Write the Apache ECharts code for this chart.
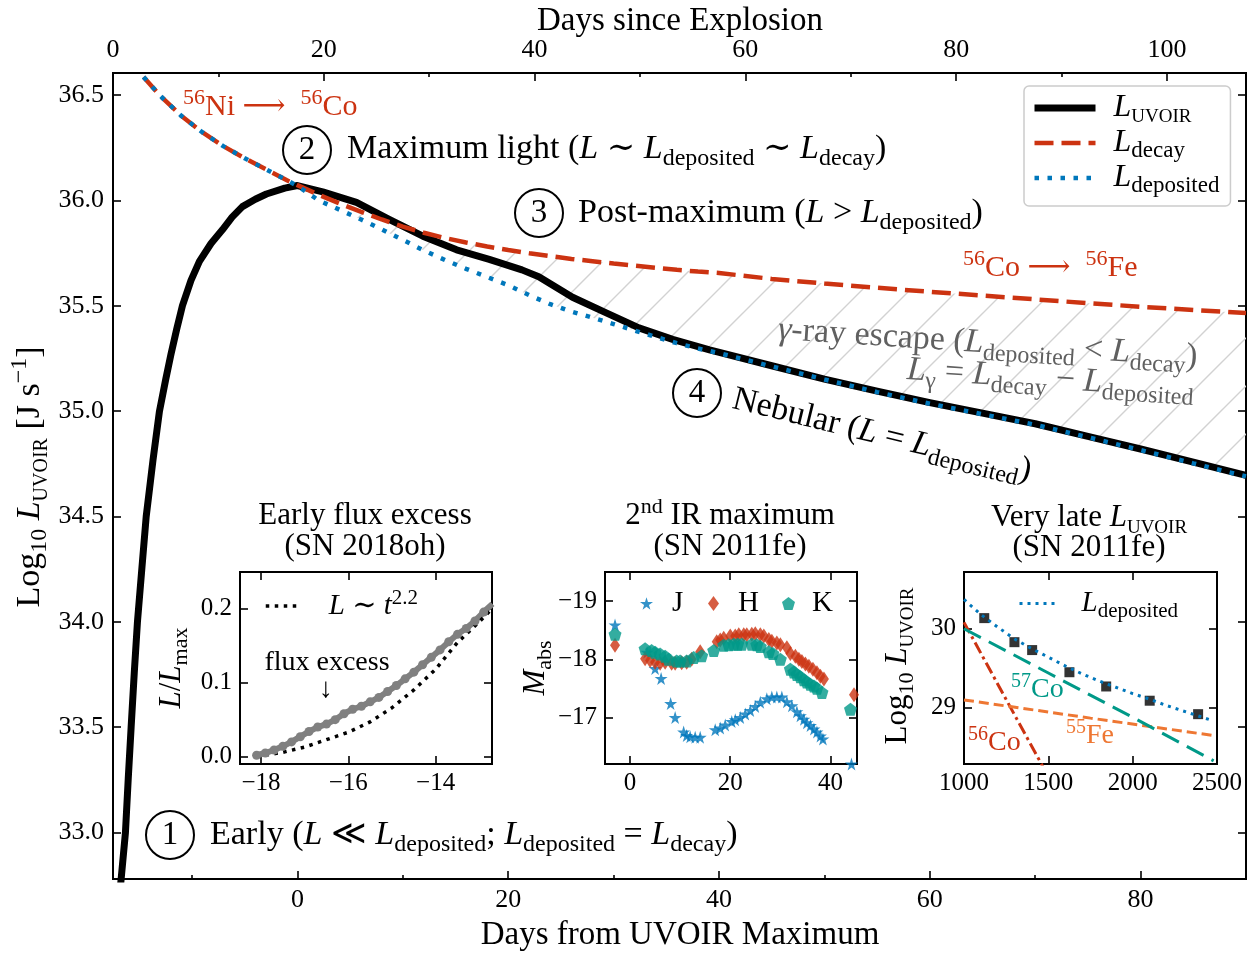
<!DOCTYPE html>
<html>
<head>
<meta charset="utf-8">
<script src="https://cdn.jsdelivr.net/npm/echarts@6/dist/echarts.min.js"></script>
<style>
  html, body { margin: 0; padding: 0; background: #fff; }
  #chart { width: 1252px; height: 953px; }
</style>
</head>
<body>
<div id="chart"></div>
<script>
// ---- main panel: days from UVOIR maximum vs log10 luminosity ----
const modelDays = [-14.6, -13, -11, -9, -7, -5, -3, -1, 0, 2, 4, 6, 8, 10, 12, 14, 16, 18, 20,
  22, 24, 26, 28, 30, 32, 34, 36, 38, 40, 45, 50, 55, 60, 65, 70, 75, 80, 85, 90];
const decayLog = [36.585, 36.495, 36.40, 36.322, 36.256, 36.199, 36.147, 36.095, 36.072, 36.027, 35.985,
  35.946, 35.909, 35.875, 35.846, 35.821, 35.80, 35.781, 35.764, 35.749, 35.735, 35.722, 35.711, 35.70,
  35.69, 35.68, 35.67, 35.662, 35.655, 35.627, 35.605, 35.585, 35.566, 35.548, 35.53, 35.512, 35.495,
  35.48, 35.465];
const depositedLog = [36.585, 36.495, 36.40, 36.322, 36.256, 36.199, 36.147, 36.095, 36.068, 36.0, 35.955,
  35.91, 35.862, 35.812, 35.762, 35.717, 35.675, 35.636, 35.597, 35.55, 35.507, 35.472, 35.443, 35.413,
  35.382, 35.352, 35.322, 35.297, 35.275, 35.212, 35.15, 35.09, 35.035, 34.985, 34.935, 34.876, 34.815,
  34.752, 34.69];
const uvoirDays = [-16.95, -16.32, -16.05, -15.78, -15.48, -15.18, -14.75, -14.35, -13.7, -13.09, -12.5,
  -12.0, -11.45, -10.91, -10.1, -9.3, -8.2, -7.12, -6.2, -5.22, -4.0, -2.94, -1.2, 0, 2.4, 5.6, 8.7,
  11.9, 15.1, 18.2, 21.3, 22.9, 26.1, 29.3, 32.4, 35.6, 39.1, 45, 50, 55, 60, 65, 70, 75, 80, 85, 90];
const uvoirLog = [32.66, 33.0, 33.26, 33.5, 33.76, 34.0, 34.26, 34.5, 34.77, 35.0, 35.15, 35.27, 35.39,
  35.5, 35.62, 35.71, 35.795, 35.86, 35.92, 35.97, 36.005, 36.03, 36.058, 36.07, 36.04, 35.99, 35.91,
  35.83, 35.765, 35.72, 35.67, 35.637, 35.54, 35.466, 35.395, 35.34, 35.29, 35.215, 35.152, 35.095,
  35.04, 34.99, 34.94, 34.88, 34.82, 34.758, 34.695];

// ---- inset 1: early flux excess (SN 2018oh) ----
const earlyDays = [-18.1, -17.9, -17.7, -17.5, -17.3, -17.1, -16.9, -16.7, -16.5, -16.3, -16.1, -15.9,
  -15.7, -15.5, -15.3, -15.1, -14.9, -14.7, -14.5, -14.3, -14.1, -13.9, -13.7, -13.5, -13.3, -13.1,
  -12.9, -12.7];
const earlyFlux = [0.002, 0.005, 0.009, 0.014, 0.020, 0.027, 0.034, 0.040, 0.044, 0.050, 0.058, 0.064,
  0.068, 0.074, 0.080, 0.088, 0.096, 0.105, 0.114, 0.124, 0.134, 0.144, 0.155, 0.165, 0.173, 0.183,
  0.195, 0.206];
const fitDays = [-18.1, -17.5, -17.0, -16.5, -16.0, -15.5, -15.0, -14.5, -14.0, -13.5, -13.0, -12.7];
const fitFlux = [0.0, 0.006, 0.013, 0.023, 0.033, 0.047, 0.066, 0.090, 0.118, 0.154, 0.182, 0.200];

// ---- inset 2: NIR light curves (SN 2011fe) ----
const jDays = [-3, 3.4, 5, 6.2, 8.1, 9, 10.7, 11.3, 12, 13, 14, 17, 18, 19, 20.3, 21, 22, 23, 24, 25, 26,
  27.3, 28.3, 29.3, 30.3, 31.3, 32.3, 33.3, 34, 34.7, 35.3, 36, 36.7, 37.3, 38, 38.5, 44.2];
const jMag = [-18.59, -18.12, -17.84, -17.67, -17.24, -17.0, -16.75, -16.69, -16.67, -16.66, -16.66,
  -16.79, -16.82, -16.87, -16.93, -16.96, -17.0, -17.06, -17.12, -17.19, -17.26, -17.32, -17.35,
  -17.35, -17.35, -17.27, -17.2, -17.1, -17.03, -16.97, -16.91, -16.86, -16.8, -16.75, -16.68,
  -16.63, -16.2];
const hDays = [-3, 3, 4, 5, 6, 7, 8.3, 9, 10.3, 11.3, 12.3, 14, 17.3, 18, 18.7, 20, 21, 21.7, 22.7,
  23.3, 24.3, 25, 26, 26.7, 27.7, 28.3, 29.3, 30, 31.3, 32, 33, 33.7, 34.3, 35, 35.7, 36.5, 37.3,
  38, 38.7, 44.7];
const hMag = [-18.24, -18.01, -17.98, -17.95, -17.93, -17.95, -17.93, -17.93, -17.94, -17.95, -18.0,
  -18.13, -18.3, -18.33, -18.36, -18.4, -18.4, -18.42, -18.42, -18.42, -18.43, -18.44, -18.42, -18.4,
  -18.34, -18.31, -18.28, -18.25, -18.2, -18.1, -18.05, -18.0, -17.96, -17.92, -17.88, -17.83,
  -17.77, -17.71, -17.66, -17.39];
const kDays = [-3, 3, 4.3, 5, 6, 7, 7.7, 9.3, 10, 11.3, 12.7, 14.3, 16.7, 18.7, 19.7, 20.7, 21.5, 22.3,
  24.3, 25.3, 26, 27.7, 28.5, 30, 32, 32.7, 33.3, 34, 34.7, 35.3, 36, 36.7, 37.3, 38.3, 44];
const kMag = [-18.43, -18.18, -18.15, -18.12, -18.09, -18.05, -18.0, -17.97, -17.97, -17.97, -18.03,
  -18.06, -18.15, -18.24, -18.25, -18.26, -18.26, -18.26, -18.26, -18.25, -18.22, -18.13, -18.1,
  -18.0, -17.83, -17.78, -17.74, -17.7, -17.65, -17.61, -17.57, -17.54, -17.5, -17.43, -17.14];

// ---- inset 3: very late luminosity (SN 2011fe) ----
const lateDays = [1120, 1299, 1404, 1625, 1843, 2101, 2388];
const lateLog = [30.134, 29.83, 29.73, 29.45, 29.27, 29.09, 28.92];
const lateDepDays = [1000, 1100, 1200, 1300, 1400, 1500, 1600, 1700, 1800, 1900, 2000, 2100, 2200,
  2300, 2400, 2470];
const lateDepLog = [30.37, 30.18, 30.02, 29.87, 29.75, 29.64, 29.53, 29.43, 29.34, 29.26, 29.18,
  29.11, 29.03, 28.96, 28.89, 28.84];
const co57Days = [1000, 1500, 2000, 2480];
const co57Log = [30.0, 29.44, 28.88, 28.33];
const fe55Days = [1000, 1750, 2480];
const fe55Log = [29.1, 28.87, 28.65];
const co56Days = [1000, 1500];
const co56Log = [30.08, 28.13];

// ---- tick values ----
const mainXTicks = [0, 20, 40, 60, 80];
const mainXMinor = [-10, 10, 30, 50, 70];
const topXTicks = [0, 20, 40, 60, 80, 100];
const topXMinor = [10, 30, 50, 70, 90];
const mainYTicks = [33.0, 33.5, 34.0, 34.5, 35.0, 35.5, 36.0, 36.5];
const in1XTicks = [-18, -16, -14];
const in1YTicks = [0.0, 0.1, 0.2];
const in2XTicks = [0, 20, 40];
const in2YTicks = [-19, -18, -17];
const in3XTicks = [1000, 1500, 2000, 2500];
const in3YTicks = [29, 30];

const FONT = "'Liberation Serif', 'DejaVu Serif', serif";
const RED = '#CC3311', BLUE = '#0077BB', TEAL = '#009988', ORANGE = '#EE7733', GREY = '#808080';
const TXTGREY = '#606060';

const zip = (xs, ys) => xs.map((x, i) => [x, ys[i]]);
const minus = v => (v < 0 ? '\u2212' + Math.abs(v) : String(v));

// rich text styles for math-like labels (sub/superscripts)
function richStyles(S, color, lh) {
  const b = { fontFamily: FONT, fill: color, color: color };
  const sub = Math.round(S * 0.72);
  const line = lh || Math.round(S * 1.3);
  return {
    n: { ...b, fontSize: S, lineHeight: line },
    i: { ...b, fontSize: S, lineHeight: line, fontStyle: 'italic' },
    sb: { ...b, fontSize: sub, lineHeight: sub, verticalAlign: 'bottom' },
    sp: { ...b, fontSize: sub, lineHeight: Math.round(S * 0.82), verticalAlign: 'top' },
    sc: { ...b, fontSize: Math.round(S * 0.6), lineHeight: Math.round(S * 0.62), verticalAlign: 'bottom' }
  };
}

function txt(x, y, text, S, color, o = {}) {
  return {
    type: 'text', x, y, rotation: o.rot || 0, z: 50,
    style: {
      text, rich: richStyles(S, color), fontFamily: FONT, fontSize: S, fill: color,
      align: o.align || 'left', verticalAlign: 'middle'
    }
  };
}

function ring(cx, cy, r) {
  return { type: 'circle', z: 50, shape: { cx, cy, r }, style: { fill: 'none', stroke: '#000', lineWidth: 2 } };
}

function axis(gridIndex, position, min, max, ticks, o = {}) {
  return {
    type: 'value', gridIndex, position, min, max, inverse: !!o.inverse,
    splitLine: { show: false },
    axisLine: { show: false, onZero: false },
    axisTick: {
      show: true, inside: true, length: o.len || 8, customValues: ticks,
      lineStyle: { color: '#000', width: 1.6 }
    },
    axisLabel: o.labels ? {
      show: true, customValues: ticks, formatter: o.fmt || (v => String(v)),
      margin: o.margin == null ? 8 : o.margin,
      fontFamily: FONT, fontSize: o.fs || 26, color: '#000'
    } : { show: false }
  };
}

// hatch pattern for the gamma-ray escape region
const hatch = document.createElement('canvas');
hatch.width = 48; hatch.height = 48;
(function () {
  const c = hatch.getContext('2d');
  c.strokeStyle = '#d2d2d2';
  c.lineWidth = 1.4;
  c.beginPath();
  c.moveTo(-4, 52); c.lineTo(52, -4);
  c.moveTo(-28, 28); c.lineTo(28, -28);
  c.moveTo(20, 76); c.lineTo(76, 20);
  c.stroke();
})();

const frame = { show: true, borderColor: '#000', borderWidth: 2, backgroundColor: 'transparent' };

const legendNames = {
  'L_UVOIR': '{i|L}{sc|UVOIR}',
  'L_decay': '{i|L}{sb|decay}',
  'L_deposited': '{i|L}{sb|deposited}',
  'fit': '{i|L}{n| \u223C }{i|t}{sp|2.2}',
  'L_dep_late': '{i|L}{sb|deposited}',
  'J': '{n|J}', 'H': '{n|H}', 'K': '{n|K}'
};

function legend(names, left, top, w, h, gap, S, extra = {}, lh) {
  return Object.assign({
    data: names, left, top, orient: 'vertical', itemWidth: w, itemHeight: h, itemGap: 0,
    selectedMode: false, padding: 0,
    lineStyle: { width: 'inherit' },
    formatter: n => legendNames[n],
    textStyle: { fontFamily: FONT, fontSize: S, color: '#000', padding: [0, 0, 0, gap], rich: richStyles(S, '#000', lh) }
  }, extra);
}

const STAR = 'path://M50,0 L61,35 L98,35 L68,57 L79,91 L50,70 L21,91 L32,57 L2,35 L39,35 Z';
const PENTA = 'path://M50,0 L98,36 L80,95 L20,95 L2,36 Z';

const chart = echarts.init(document.getElementById('chart'), null, { renderer: 'canvas' });

const option = {
  animation: false,
  backgroundColor: '#fff',
  grid: [
    Object.assign({ left: 113, top: 73, width: 1133, height: 806 }, frame),
    Object.assign({ left: 240, top: 572, width: 252, height: 192 }, frame),
    Object.assign({ left: 605, top: 572, width: 252, height: 192 }, frame),
    Object.assign({ left: 964, top: 572, width: 253, height: 192 }, frame),
    { left: 113, top: 73, width: 1133, height: 806, show: false }
  ],
  xAxis: [
    axis(0, 'bottom', -17.5, 90, mainXTicks, { labels: true, margin: 8 }),
    axis(0, 'top', 0, 107.5, topXTicks, { labels: true, margin: 10 }),
    axis(4, 'bottom', -17.5, 90, mainXMinor, { len: 4 }),
    axis(4, 'top', 0, 107.5, topXMinor, { len: 4 }),
    axis(1, 'bottom', -18.48, -12.71, in1XTicks, { labels: true, fmt: minus, fs: 25, margin: 7 }),
    axis(1, 'top', -18.48, -12.71, in1XTicks),
    axis(2, 'bottom', -5, 45.3, in2XTicks, { labels: true, fs: 25, margin: 7 }),
    axis(2, 'top', -5, 45.3, in2XTicks),
    axis(3, 'bottom', 1000, 2500, in3XTicks, { labels: true, fs: 25, margin: 7 }),
    axis(3, 'top', 1000, 2500, in3XTicks)
  ],
  yAxis: [
    axis(0, 'left', 32.78, 36.604, mainYTicks, { labels: true, fmt: v => v.toFixed(1), margin: 9 }),
    axis(0, 'right', 32.78, 36.604, mainYTicks),
    axis(1, 'left', -0.0098, 0.249, in1YTicks, { labels: true, fmt: v => v.toFixed(1), fs: 25, margin: 8 }),
    axis(1, 'right', -0.0098, 0.249, in1YTicks),
    axis(2, 'left', -19.5, -16.2, in2YTicks, { labels: true, fmt: minus, fs: 25, margin: 8, inverse: true }),
    axis(2, 'right', -19.5, -16.2, in2YTicks, { inverse: true }),
    axis(3, 'left', 28.29, 30.717, in3YTicks, { labels: true, fs: 25, margin: 8 }),
    axis(3, 'right', 28.29, 30.717, in3YTicks),
    { type: 'value', gridIndex: 4, min: 0, max: 1, show: false }
  ],
  legend: [
    legend(['L_UVOIR', 'L_decay', 'L_deposited'], 1024, 86, 61, 14, 13, 32, {
      padding: [6, 11, 9, 7], backgroundColor: 'rgba(255,255,255,0.85)', borderColor: '#cccccc',
      borderWidth: 1.5, borderRadius: 5, itemStyle: { opacity: 0 }
    }, 38),
    legend(['fit'], 264, 588, 36, 10, 22, 29, { itemStyle: { opacity: 0 } }, 36),
    legend(['L_dep_late'], 1018, 589, 35, 10, 22, 29, { itemStyle: { opacity: 0 } }, 36),
    legend(['J'], 640, 589, 13, 13, 14, 29, {}, 36),
    legend(['H'], 708, 589, 11, 15, 14, 29, {}, 36),
    legend(['K'], 782, 589, 13, 13, 12, 29, {}, 36)
  ],
  series: [
    // gamma-ray escape region between L_decay and L_deposited
    {
      type: 'custom', xAxisIndex: 0, yAxisIndex: 0, silent: true, z: 1,
      data: [[modelDays[0], decayLog[0]]],
      renderItem: function (params, api) {
        const pts = modelDays.map((d, i) => api.coord([d, decayLog[i]]));
        for (let i = modelDays.length - 1; i >= 0; i--) {
          pts.push(api.coord([modelDays[i], depositedLog[i]]));
        }
        return {
          type: 'polygon', shape: { points: pts },
          style: { fill: { image: hatch, repeat: 'repeat' }, stroke: null }
        };
      }
    },
    {
      type: 'line', name: 'L_UVOIR', xAxisIndex: 0, yAxisIndex: 0, data: zip(uvoirDays, uvoirLog),
      symbol: 'none', lineStyle: { color: '#000', width: 7, join: 'round' },
      itemStyle: { color: '#000' }
    },
    {
      type: 'line', name: 'L_decay', xAxisIndex: 0, yAxisIndex: 0, data: zip(modelDays, decayLog),
      symbol: 'none', lineStyle: { color: RED, width: 4.5, type: [19, 8] }, itemStyle: { color: RED }
    },
    {
      type: 'line', name: 'L_deposited', xAxisIndex: 0, yAxisIndex: 0, data: zip(modelDays, depositedLog),
      symbol: 'none', lineStyle: { color: BLUE, width: 4.5, type: [4.5, 8.5] }, itemStyle: { color: BLUE }
    },
    // inset 1
    {
      type: 'line', name: 'SN 2018oh', xAxisIndex: 4, yAxisIndex: 2, data: zip(earlyDays, earlyFlux),
      symbol: 'circle', symbolSize: 9, lineStyle: { color: GREY, width: 6 }, itemStyle: { color: GREY }
    },
    {
      type: 'line', name: 'fit', xAxisIndex: 4, yAxisIndex: 2, data: zip(fitDays, fitFlux), symbol: 'none',
      lineStyle: { color: '#000', width: 3.5, type: [3.5, 5.5] }, itemStyle: { color: '#000' }
    },
    // inset 2
    {
      type: 'scatter', name: 'J', xAxisIndex: 6, yAxisIndex: 4, data: zip(jDays, jMag),
      symbol: STAR, symbolSize: 13, itemStyle: { color: BLUE }
    },
    {
      type: 'scatter', name: 'H', xAxisIndex: 6, yAxisIndex: 4, data: zip(hDays, hMag),
      symbol: 'diamond', symbolSize: [10, 15], itemStyle: { color: RED }
    },
    {
      type: 'scatter', name: 'K', xAxisIndex: 6, yAxisIndex: 4, data: zip(kDays, kMag),
      symbol: PENTA, symbolSize: 13, itemStyle: { color: TEAL }
    },
    // inset 3
    {
      type: 'line', name: '56Co', xAxisIndex: 8, yAxisIndex: 6, data: zip(co56Days, co56Log), symbol: 'none',
      lineStyle: { color: RED, width: 3, type: [12, 4, 3, 4] }
    },
    {
      type: 'line', name: '55Fe', xAxisIndex: 8, yAxisIndex: 6, data: zip(fe55Days, fe55Log), symbol: 'none',
      lineStyle: { color: ORANGE, width: 3, type: [10, 5] }
    },
    {
      type: 'line', name: '57Co', xAxisIndex: 8, yAxisIndex: 6, data: zip(co57Days, co57Log), symbol: 'none',
      lineStyle: { color: TEAL, width: 3, type: [19, 9] }
    },
    {
      type: 'scatter', name: 'late', xAxisIndex: 8, yAxisIndex: 6, data: zip(lateDays, lateLog),
      symbol: 'rect', symbolSize: 10, itemStyle: { color: '#000' }
    },
    {
      type: 'line', name: 'L_dep_late', xAxisIndex: 8, yAxisIndex: 6, data: zip(lateDepDays, lateDepLog),
      symbol: 'none', lineStyle: { color: BLUE, width: 3, type: [3, 5] }, itemStyle: { color: BLUE }
    }
  ],
  graphic: [
    // axis titles
    txt(680, 21, '{n|Days since Explosion}', 33, '#000', { align: 'center' }),
    txt(680, 935, '{n|Days from UVOIR Maximum}', 33, '#000', { align: 'center' }),
    txt(30, 477, '{n|Log}{sb|10}{n| }{i|L}{sc|UVOIR}{n| [J s}{sp|\u22121}{n|]}', 34, '#000',
      { align: 'center', rot: Math.PI / 2 }),
    // phase annotations
    txt(183, 107, '{sp|56}{n|Ni \u27F6  }{sp|56}{n|Co}', 30, RED),
    ring(307, 150, 24),
    txt(307, 150, '{n|2}', 33, '#000', { align: 'center' }),
    txt(347, 149, '{n|Maximum light (}{i|L}{n| \u223C }{i|L}{sb|deposited}{n| \u223C }{i|L}{sb|decay}{n|)}', 34, '#000'),
    ring(539, 213, 24),
    txt(539, 213, '{n|3}', 33, '#000', { align: 'center' }),
    txt(578, 213, '{n|Post-maximum (}{i|L}{n| > }{i|L}{sb|deposited}{n|)}', 34, '#000'),
    txt(963, 268, '{sp|56}{n|Co \u27F6  }{sp|56}{n|Fe}', 30, RED),
    txt(778, 330, '{i|\u03B3}{n|-ray escape (}{i|L}{sb|deposited}{n| < }{i|L}{sb|decay}{n|)}', 34, TXTGREY,
      { rot: -0.065 }),
    txt(907, 370, '{i|L}{sb|\u03B3}{n| = }{i|L}{sb|decay}{n| \u2212 }{i|L}{sb|deposited}', 34, TXTGREY,
      { rot: -0.065 }),
    ring(697, 393, 24),
    txt(697, 393, '{n|4}', 33, '#000', { align: 'center' }),
    txt(733, 399, '{n|Nebular (}{i|L}{n| = }{i|L}{sb|deposited}{n|)}', 34, '#000', { rot: -0.24 }),
    ring(170, 835, 24),
    txt(170, 835, '{n|1}', 33, '#000', { align: 'center' }),
    txt(210, 835, '{n|Early (}{i|L}{n| \u226A }{i|L}{sb|deposited}{n|; }{i|L}{sb|deposited}{n| = }{i|L}{sb|decay}{n|)}',
      34, '#000'),
    // inset titles and labels
    txt(365, 516, '{n|Early flux excess}', 31, '#000', { align: 'center' }),
    txt(365, 547, '{n|(SN 2018oh)}', 31, '#000', { align: 'center' }),
    txt(172, 668, '{i|L}{n|/}{i|L}{sb|max}', 31, '#000', { align: 'center', rot: Math.PI / 2 }),
    txt(327, 663, '{n|flux excess}', 28, '#000', { align: 'center' }),
    txt(326, 690, '{n|\u2193}', 28, '#000', { align: 'center' }),
    txt(730, 516, '{n|2}{sp|nd}{n| IR maximum}', 31, '#000', { align: 'center' }),
    txt(730, 547, '{n|(SN 2011fe)}', 31, '#000', { align: 'center' }),
    txt(536, 668, '{i|M}{sb|abs}', 31, '#000', { align: 'center', rot: Math.PI / 2 }),
    txt(1089, 518, '{n|Very late }{i|L}{sc|UVOIR}', 31, '#000', { align: 'center' }),
    txt(1089, 548, '{n|(SN 2011fe)}', 31, '#000', { align: 'center' }),
    txt(898, 666, '{n|Log}{sb|10}{n| }{i|L}{sc|UVOIR}', 31, '#000', { align: 'center', rot: Math.PI / 2 }),
    txt(1011, 690, '{sp|57}{n|Co}', 28, TEAL),
    txt(1066, 736, '{sp|55}{n|Fe}', 28, ORANGE),
    txt(968, 743, '{sp|56}{n|Co}', 28, RED)
  ]
};

chart.setOption(option);
</script>
</body>
</html>
